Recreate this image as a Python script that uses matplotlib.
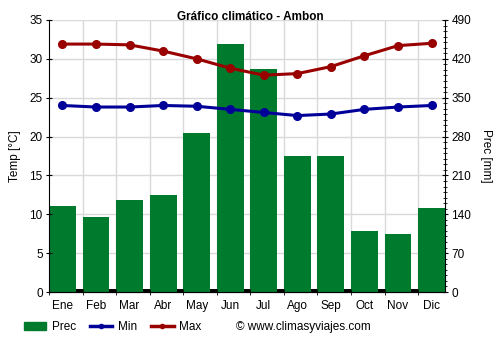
import matplotlib
matplotlib.use('Agg')
import matplotlib.pyplot as plt
import numpy as np
from matplotlib.patches import Patch
from matplotlib.lines import Line2D

meses = ['Ene', 'Feb', 'Mar', 'Abr', 'May', 'Jun', 'Jul', 'Ago', 'Sep', 'Oct', 'Nov', 'Dic']
prec = [155, 135, 166, 175, 286, 447, 401, 245, 245, 110, 104, 151]
tmin = [24.0, 23.8, 23.8, 24.0, 23.9, 23.5, 23.1, 22.7, 22.9, 23.5, 23.8, 24.0]
tmax = [31.9, 31.9, 31.8, 31.0, 30.0, 28.8, 27.9, 28.1, 29.0, 30.4, 31.7, 32.0]

plt.rcParams['font.family'] = ['Liberation Sans', 'DejaVu Sans']
plt.rcParams['font.size'] = 8.5

verde = '#007b2e'
azul = '#000099'
rojo = '#990000'

fig = plt.figure(figsize=(5, 3.5), dpi=100)
ax = fig.add_axes([0.098, 0.1657, 0.792, 0.7772])
ax2 = ax.twinx()

x = np.arange(len(meses))
xc = x + 0.4  # centro de cada barra

# barras de precipitacion en el eje derecho
ax2.bar(x, prec, width=0.8, align='edge', color=verde, zorder=2)
ax2.set_ylim(0, 490)
ax2.set_yticks(np.arange(0, 491, 70))
ax2.set_yticks(np.arange(0, 491, 10), minor=True)
ax2.tick_params(axis='y', which='major', length=5, direction='inout', pad=2)
ax2.tick_params(axis='y', which='minor', length=3, direction='inout')
ax2.set_ylabel('Prec [mm]', rotation=270, labelpad=15)

# ax va encima para las lineas
ax.set_zorder(ax2.get_zorder() + 1)
ax.patch.set_visible(False)
ax.plot(xc, tmin, color=azul, lw=2.2, marker='o', ms=5.5, zorder=5)
ax.plot(xc, tmax, color=rojo, lw=2.2, marker='o', ms=5.5, zorder=5)
ax.set_ylim(0, 35)
ax.set_xlim(0, 11.8)
ax.set_yticks(np.arange(0, 36, 5))
ax.set_ylabel('Temp [°C]', labelpad=6)
ax.set_xticks(xc)
ax.set_xticklabels(meses)
ax.set_xticks(x, minor=True)
ax.tick_params(axis='x', which='major', length=0, pad=6)
ax.tick_params(axis='x', which='minor', length=5, direction='inout')
ax.tick_params(axis='y', length=5, direction='inout', pad=2)

# rejilla
for yv in np.arange(5, 36, 5):
    ax2.axhline(yv * 14, color='#d9d9d9', lw=1, zorder=0)
for xv in x[1:]:
    ax2.axvline(xv, color='#d9d9d9', lw=1, zorder=0)
ax2.axhline(0, color='black', lw=5, zorder=1)

for a in (ax, ax2):
    a.spines['top'].set_visible(False)
ax2.spines['left'].set_visible(False)
ax.spines['right'].set_visible(False)

fig.text(0.5, 0.952, 'Gráfico climático - Ambon', ha='center', va='center',
         fontweight='bold', fontsize=8.5)

# leyenda de abajo
handles = [Patch(color=verde),
           Line2D([0], [0], color=azul, lw=2.5, marker='o', ms=3),
           Line2D([0], [0], color=rojo, lw=2.5, marker='o', ms=3)]
fig.legend(handles, ['Prec', 'Min', 'Max'], loc='center left',
           bbox_to_anchor=(0.048, 0.066), ncol=3, frameon=False,
           borderpad=0, borderaxespad=0,
           handlelength=1.9, columnspacing=1.2, handletextpad=0.45, fontsize=8.5)
fig.text(0.472, 0.066, '© www.climasyviajes.com', ha='left', va='center', fontsize=8.5)

fig.savefig('out.png', dpi=100)
